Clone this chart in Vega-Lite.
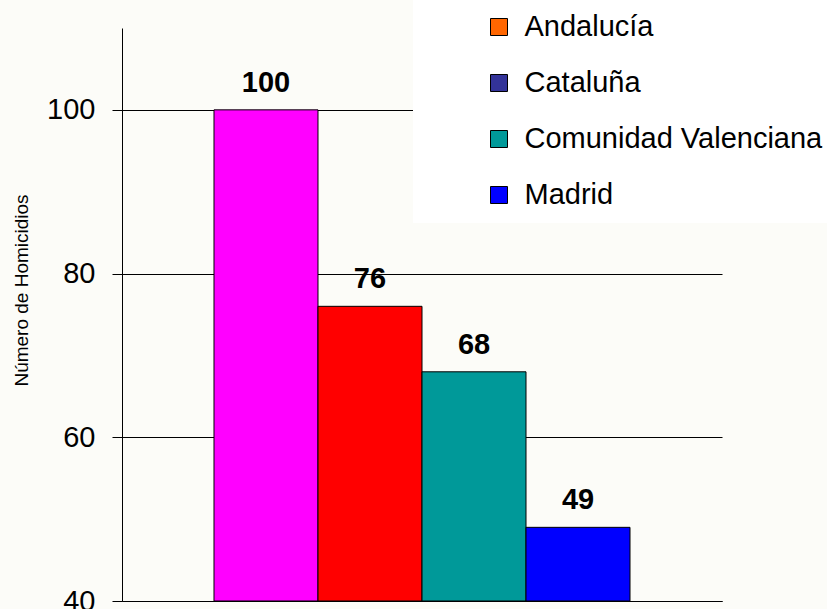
{
  "$schema": "https://vega.github.io/schema/vega-lite/v6.json",
  "width": 600,
  "height": 573,
  "autosize": "none",
  "padding": {"left": 122, "top": 28, "right": 105, "bottom": 8},
  "background": "#FCFCF8",
  "config": {"view": {"stroke": null}, "font": "Liberation Sans"},
  "data": {"values": [
    {"region": "Andalucía", "homicidios": 100},
    {"region": "Cataluña", "homicidios": 76},
    {"region": "Comunidad Valenciana", "homicidios": 68},
    {"region": "Madrid", "homicidios": 49}
  ]},
  "encoding": {
    "x": {"field": "region", "type": "nominal", "sort": null,
      "scale": {"paddingInner": 0, "paddingOuter": 0.8846},
      "axis": {"labels": false, "ticks": false, "title": null, "domainColor": "black", "grid": false}}
  },
  "layer": [
    {
      "mark": {"type": "bar", "stroke": "black", "strokeWidth": 1},
      "encoding": {
        "y": {"field": "homicidios", "type": "quantitative",
          "scale": {"domain": [40, 110], "nice": false, "zero": false},
          "axis": {"values": [40, 60, 80, 100], "grid": true, "gridColor": "black", "gridOpacity": 1,
            "tickSize": 10, "tickColor": "black", "domainColor": "black",
            "labelFontSize": 29, "labelColor": "black", "labelPadding": 17,
            "title": "Número de Homicidios", "titleFontSize": 19, "titleFontWeight": "normal",
            "titleColor": "black", "titleX": -101, "titleY": 262, "titleAngle": -90,
            "titleAlign": "center", "titleBaseline": "middle"}},
        "y2": {"datum": 40},
        "fill": {"field": "region", "type": "nominal", "sort": null,
          "scale": {"range": ["#FF00FF", "#FF0000", "#009999", "#0000FF"]},
          "legend": null}
      }
    },
    {
      "mark": {"type": "square", "size": 0, "filled": true, "opacity": 1},
      "encoding": {
        "y": {"datum": 40},
        "color": {"field": "region", "type": "nominal", "sort": null,
          "scale": {"range": ["#FF6600", "#333399", "#009999", "#0000FF"]},
          "legend": {"orient": "none", "legendX": 291, "legendY": -28, "padding": 12.5,
            "fillColor": "white", "title": null, "symbolType": "square", "symbolSize": 289,
            "symbolStrokeColor": "black", "symbolStrokeWidth": 1, "symbolOpacity": 1,
            "labelFontSize": 29, "labelColor": "black", "rowPadding": 26,
            "symbolOffset": 59, "labelOffset": 11, "labelLimit": 400}}
      }
    },
    {
      "mark": {"type": "text", "fontWeight": "bold", "fontSize": 29, "dy": -18, "baseline": "alphabetic", "color": "black"},
      "encoding": {
        "y": {"field": "homicidios", "type": "quantitative"},
        "text": {"field": "homicidios", "type": "quantitative"}
      }
    }
  ]
}
